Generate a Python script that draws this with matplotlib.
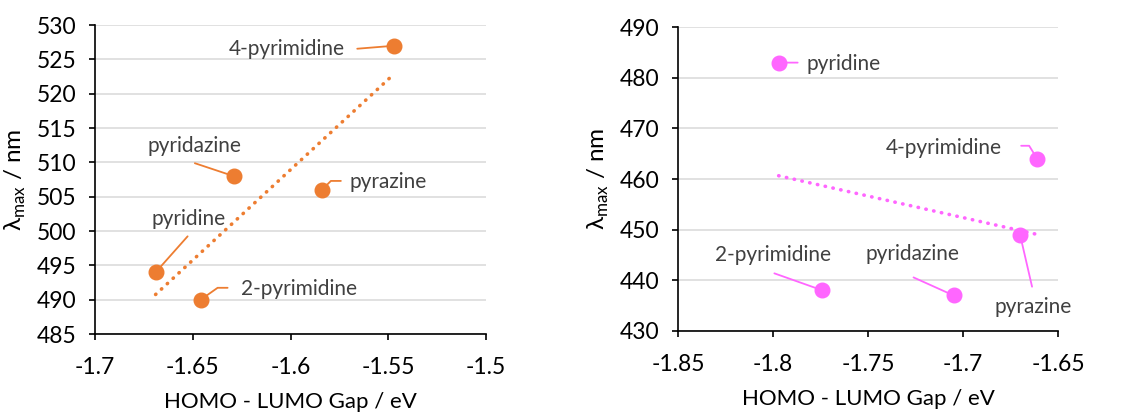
import numpy as np
import matplotlib
matplotlib.use("Agg")
import matplotlib.pyplot as plt

plt.rcParams['font.family'] = ['Lato', 'DejaVu Sans']
plt.rcParams['mathtext.fontset'] = 'custom'
plt.rcParams['mathtext.rm'] = 'Lato'

# --- data, left panel ---
left_names = ['4-pyrimidine', 'pyridazine', 'pyrazine', 'pyridine', '2-pyrimidine']
left_gap = [-1.547, -1.629, -1.584, -1.669, -1.646]
left_lmax = [527, 508, 506, 494, 490]

# --- data, right panel ---
right_names = ['pyridine', '4-pyrimidine', 'pyrazine', '2-pyrimidine', 'pyridazine']
right_gap = [-1.797, -1.661, -1.670, -1.774, -1.705]
right_lmax = [483, 464, 449, 438, 437]

# label layout (offsets in pixels from the point): text offset, leader start, elbow arm
left_layout = [
    dict(text=(-49, -3), ha='right', lead=(-37, -3), arm=None),
    dict(text=(-39, 30), ha='center', lead=(-39, 13), arm=None),
    dict(text=(28, 8), ha='left', lead=(19, 9), arm=(180, 10)),
    dict(text=(33, 53), ha='center', lead=(32, 36), arm=None),
    dict(text=(40, 11), ha='left', lead=(27, 12), arm=(180, 10)),
]
right_layout = [
    dict(text=(28, -1), ha='left', lead=(19, 0), arm=None),
    dict(text=(-35, 11), ha='right', lead=(-16, 13), arm=(0, 8)),
    dict(text=(13, -72), ha='center', lead=(12, -52), arm=None),
    dict(text=(-49, 35), ha='center', lead=(-48, 17), arm=None),
    dict(text=(-41, 41), ha='center', lead=(-40, 18), arm=None),
]

fig = plt.figure(figsize=(11.28, 4.12), dpi=100)
ax1 = fig.add_axes([0.0842, 0.189, 0.3468, 0.750])
ax2 = fig.add_axes([0.601, 0.197, 0.337, 0.737])


def draw_panel(ax, names, gx, ly, layout, color, xlim, ylim, xticks, yticks, xfmt):
    ax.set_xlim(*xlim)
    ax.set_ylim(*ylim)
    ax.set_xticks(xticks)
    ax.set_yticks(yticks)
    ax.set_xticklabels([xfmt(t) for t in xticks])
    ax.grid(axis='y', color='#d9d9d9', linewidth=1.1)
    ax.set_axisbelow(True)
    for s in ['top', 'right']:
        ax.spines[s].set_visible(False)
    for s in ['left', 'bottom']:
        ax.spines[s].set_linewidth(1.2)
        ax.spines[s].set_color('black')
    ax.tick_params(axis='both', direction='out', length=4.5, width=1.2,
                   labelsize=16.5, colors='black')
    ax.tick_params(axis='y', pad=9)
    ax.tick_params(axis='x', pad=12)

    # linear trendline
    k, b = np.polyfit(gx, ly, 1)
    xs = np.array([min(gx), max(gx)])
    ax.plot(xs, k * xs + b, color=color, linewidth=2.6,
            linestyle=(0, (0.1, 2.1)), dash_capstyle='round', zorder=2)

    ax.plot(gx, ly, 'o', color=color, markersize=10.5, zorder=3)

    for name, x, y, lay in zip(names, gx, ly, layout):
        if lay['arm'] is None:
            cs = 'arc3,rad=0'
        else:
            cs = 'arc,angleA=%d,angleB=0,armA=%d,armB=0,rad=0' % lay['arm']
        ax.annotate('', xy=(x, y), xytext=lay['lead'], textcoords='offset pixels',
                    arrowprops=dict(arrowstyle='-', color=color, lw=1.3,
                                    shrinkA=0, shrinkB=0, connectionstyle=cs),
                    annotation_clip=False)
        ax.annotate(name, xy=(x, y), xytext=lay['text'], textcoords='offset pixels',
                    ha=lay['ha'], va='center', fontsize=15, color='#404040',
                    annotation_clip=False)

    ax.set_xlabel('HOMO - LUMO Gap / eV', fontsize=16, labelpad=10)
    ax.set_ylabel(r'λ$_{\mathrm{max}}$ / nm', fontsize=17.5, labelpad=6)


fmt = lambda t: ('%g' % t)
draw_panel(ax1, left_names, left_gap, left_lmax, left_layout, '#ED7D31',
           (-1.7, -1.5), (485, 530), np.arange(-1.7, -1.49, 0.05),
           np.arange(485, 531, 5), fmt)
draw_panel(ax2, right_names, right_gap, right_lmax, right_layout, '#FF66FF',
           (-1.85, -1.65), (430, 490), np.arange(-1.85, -1.649, 0.05),
           np.arange(430, 491, 10), fmt)

fig.savefig('out.png', dpi=100)
